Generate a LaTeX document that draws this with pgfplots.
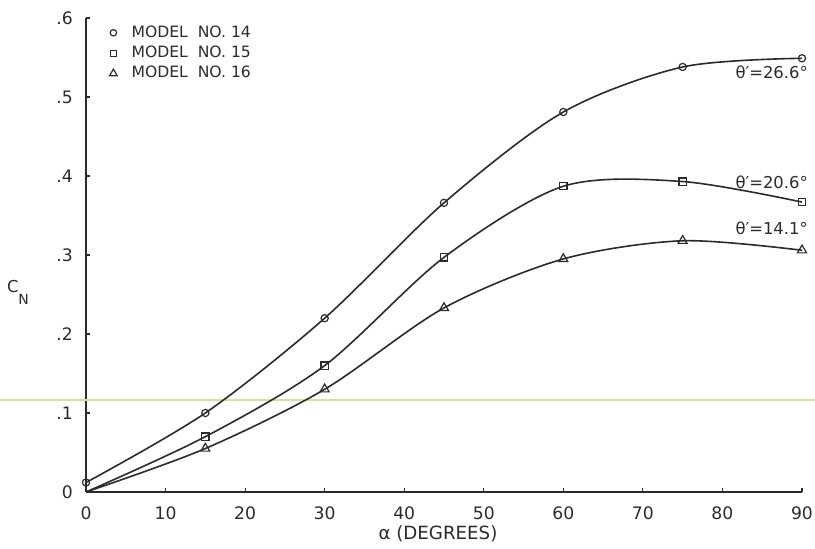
\documentclass[border=0pt]{standalone}
\usepackage{fontspec}
\setmainfont{DejaVu Sans}
\usepackage{pgfplots}
\pgfplotsset{compat=1.18}
\definecolor{ink}{HTML}{2B2B2B}
\definecolor{scan}{HTML}{DCDDA0}
\begin{document}
\begin{tikzpicture}
\useasboundingbox (-43pt,-28.5pt) rectangle (364.5pt,246pt);
\begin{axis}[
  scale only axis, width=358pt, height=237pt,
  xmin=0, xmax=90, ymin=0, ymax=0.6,
  axis lines*=left,
  axis line style={ink, line width=0.8pt},
  xtick={0,10,20,30,40,50,60,70,80,90},
  ytick={0,0.1,0.2,0.3,0.4,0.5,0.6},
  yticklabels={0,.1,.2,.3,.4,.5,.6},
  tick align=inside, major tick length=2pt,
  tick style={ink, line width=0.6pt},
  ticklabel style={font=\fontsize{8.6}{10}\selectfont, text=ink},
  xticklabel style={yshift=-3.6pt},
  yticklabel style={xshift=-3.1pt},
  /pgf/number format/assume math mode=true,
  clip=false,
  xlabel={α (DEGREES)},
  xlabel style={at={(axis description cs:0.5,0)}, anchor=center, yshift=-21pt, xshift=-3pt, font=\fontsize{9.1}{11}\selectfont, text=ink},
  ylabel={\fontsize{8.2}{9}\selectfont C\raisebox{-6pt}{\fontsize{7}{8}\selectfont N}},
  ylabel style={at={(axis description cs:-0.095,0.422)}, anchor=center, rotate=-90, text=ink},
  legend style={at={(rel axis cs:0.0324,0.9935)}, anchor=north west, draw=none, fill=none,
    font=\fontsize{7.8}{9}\selectfont, text=ink, row sep=-1.1pt, inner sep=0pt,
    /tikz/every odd column/.append style={column sep=5.2pt}},
  legend cell align=left,
  every axis plot/.append style={line width=0.8pt, ink},
]
\addplot[scan, line width=1pt, forget plot] coordinates {(-10.8,0.1165) (91.6,0.1165)};

\addlegendimage{only marks, mark=o, mark size=1.6pt, mark options={fill=white, draw=ink, line width=0.6pt}}
\addlegendentry{MODEL\ \ NO. 14}
\addlegendimage{only marks, mark=square, mark size=1.5pt, mark options={fill=white, draw=ink, line width=0.6pt}}
\addlegendentry{MODEL\ \ NO. 15}
\addlegendimage{only marks, mark=triangle, mark size=2.2pt, mark options={fill=white, draw=ink, line width=0.6pt}}
\addlegendentry{MODEL\ \ NO. 16}

% Model 14
\addplot[smooth, forget plot, mark=o, mark size=1.8pt, mark options={fill=white, draw=ink, line width=0.6pt}]
  coordinates {(0,0.012) (15,0.100) (30,0.220) (45,0.366) (60,0.481) (75,0.538) (90,0.549)};
% Model 15
\addplot[smooth, forget plot, mark=square, mark size=1.8pt, mark indices={2,3,4,5,6,7}, mark options={fill=white, draw=ink, line width=0.6pt}]
  coordinates {(0,0.0) (15,0.070) (30,0.160) (45,0.297) (60,0.387) (75,0.393) (90,0.367)};
% Model 16
\addplot[smooth, forget plot, mark=triangle, mark size=2.6pt, mark indices={2,3,4,5,6,7}, mark options={fill=white, draw=ink, line width=0.6pt}]
  coordinates {(0,0.0) (15,0.055) (30,0.130) (45,0.233) (60,0.295) (75,0.318) (90,0.306)};

\node[anchor=west, inner sep=0pt, font=\fontsize{8.2}{10}\selectfont, text=ink] at (axis cs:81.6,0.531) {θ′=26.6°};
\node[anchor=west, inner sep=0pt, font=\fontsize{8.2}{10}\selectfont, text=ink] at (axis cs:81.6,0.392) {θ′=20.6°};
\node[anchor=west, inner sep=0pt, font=\fontsize{8.2}{10}\selectfont, text=ink] at (axis cs:81.6,0.334) {θ′=14.1°};
\end{axis}
\end{tikzpicture}
\end{document}
